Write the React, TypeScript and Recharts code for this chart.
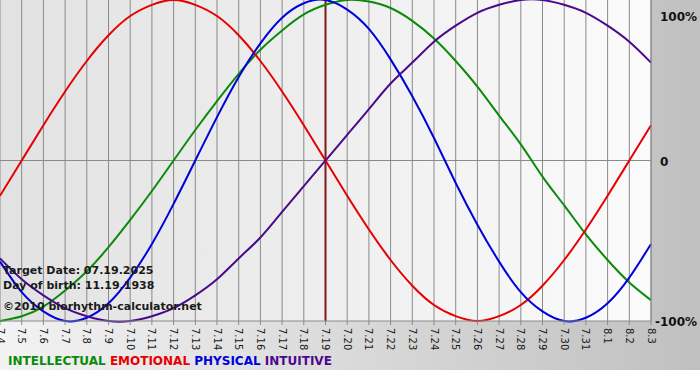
import React from "react";
import {
  LineChart,
  Line,
  XAxis,
  YAxis,
  CartesianGrid,
  ReferenceLine,
} from "recharts";

const days = [
  "7.4", "7.5", "7.6", "7.7", "7.8", "7.9", "7.10", "7.11", "7.12", "7.13",
  "7.14", "7.15", "7.16", "7.17", "7.18", "7.19", "7.20", "7.21", "7.22", "7.23",
  "7.24", "7.25", "7.26", "7.27", "7.28", "7.29", "7.30", "7.31", "8.1", "8.2", "8.3",
];

const intellectual = [
  -100, -97, -91, -81, -69, -54, -37, -19, 0, 19, 37, 54, 69, 81, 91, 97,
  100, 99, 95, 87, 76, 62, 46, 28, 10, -10, -28, -46, -62, -76, -87,
];
const emotional = [
  -22, 0, 22, 43, 62, 78, 90, 97, 100, 97, 90, 78, 62, 43, 22, 0,
  -22, -43, -62, -78, -90, -97, -100, -97, -90, -78, -62, -43, -22, 0, 22,
];
const physical = [
  -63, -82, -94, -100, -98, -89, -73, -52, -27, 0, 27, 52, 73, 89, 98, 100,
  94, 82, 63, 40, 14, -14, -40, -63, -82, -94, -100, -98, -89, -73, -52,
];
const intuitive = [
  -61, -74, -84, -92, -97, -100, -100, -97, -92, -84, -74, -61, -48, -32, -16, 0,
  16, 32, 48, 61, 74, 84, 92, 97, 100, 100, 97, 92, 84, 74, 61,
];

const targetDay = "7.19";
const yTicks = [-100, 0, 100];
const yLabels: Record<number, string> = { 100: "100%", 0: "0", [-100]: "-100%" };

const data = days.map((day, i) => ({
  idx: i,
  day,
  intellectual: intellectual[i],
  emotional: emotional[i],
  physical: physical[i],
  intuitive: intuitive[i],
}));

const font = "'DejaVu Sans', Verdana, sans-serif";

const DayTick = (props: any) => {
  const { x, y, payload } = props;
  return (
    <text
      x={0}
      y={0}
      transform={`translate(${x},${y + 1}) rotate(90)`}
      textAnchor="start"
      dominantBaseline="central"
      fontFamily={font}
      fontSize={10}
      fill="#1a1a1a"
    >
      {days[payload.value]}
    </text>
  );
};

const PercentTick = (props: any) => {
  const { x, y, payload } = props;
  const v = payload.value;
  const dy = v === 100 ? 8 : 1;
  const dx = v < 0 ? -4 : 1;
  return (
    <text
      x={x + dx}
      y={y + dy}
      textAnchor="start"
      dominantBaseline="central"
      fontFamily={font}
      fontSize={12}
      fontWeight="bold"
      fill="#111"
    >
      {yLabels[v]}
    </text>
  );
};

const infoStyle: React.CSSProperties = {
  position: "absolute",
  left: 3,
  fontFamily: font,
  fontSize: 11,
  fontWeight: "bold",
  color: "#1a1a1a",
  whiteSpace: "nowrap",
  lineHeight: "13px",
};

export default function App() {
  const lines = [
    { key: "intellectual", color: "#0b8a0b" },
    { key: "emotional", color: "#e60000" },
    { key: "physical", color: "#0000dc" },
    { key: "intuitive", color: "#4b0a8c" },
  ];
  return (
    <div style={{ position: "absolute", left: 0, top: 0, width: 700, height: 380, background: "#fff" }}>
      <div style={{
        position: "absolute",
        left: 0,
        top: 0,
        width: 700,
        height: 370,
        background: "linear-gradient(to right, #f3f3f3, #c0c0c0)",
      }} />
      <div style={{ position: "absolute", left: 0, top: 0 }}>
        <LineChart width={700} height={370} data={data} margin={{ top: 0, right: 0, left: 0, bottom: 0 }}>
          <defs>
            <linearGradient id="plotBg" x1="0" y1="0" x2="1" y2="0">
              <stop offset="0%" stopColor="#e2e2e2" />
              <stop offset="100%" stopColor="#fbfbfb" />
            </linearGradient>
          </defs>
          <CartesianGrid horizontal={false} stroke="#8a8a8a" strokeWidth={1} fill="url(#plotBg)" fillOpacity={1} />
          <ReferenceLine y={0} stroke="#8a8a8a" strokeWidth={1} />
          <XAxis
            dataKey="idx"
            type="number"
            domain={[0, days.length - 1]}
            ticks={data.map((d) => d.idx)}
            interval={0}
            tick={<DayTick />}
            tickLine={{ stroke: "#8a8a8a" }}
            tickSize={4}
            axisLine={{ stroke: "#8a8a8a" }}
            height={49}
          />
          <YAxis
            orientation="right"
            type="number"
            domain={[-100, 100]}
            ticks={yTicks}
            tick={<PercentTick />}
            tickLine={false}
            axisLine={{ stroke: "#8a8a8a" }}
            width={49}
          />
          <ReferenceLine x={days.indexOf(targetDay)} stroke="#801818" strokeWidth={2} />
          {lines.map((l) => (
            <Line
              key={l.key}
              type="natural"
              dataKey={l.key}
              stroke={l.color}
              strokeWidth={2}
              dot={false}
              activeDot={false}
              isAnimationActive={false}
            />
          ))}
        </LineChart>
      </div>
      <div style={{ ...infoStyle, top: 264 }}>Target Date: 07.19.2025</div>
      <div style={{ ...infoStyle, top: 279 }}>Day of birth: 11.19.1938</div>
      <div style={{ ...infoStyle, top: 300 }}>©2010 biorhythm-calculator.net</div>
      <div style={{
        position: "absolute",
        left: 8,
        top: 354,
        fontFamily: font,
        fontSize: 12,
        fontWeight: "bold",
        whiteSpace: "nowrap",
        lineHeight: "14px",
      }}>
        <span style={{ color: "#0b8a0b" }}>INTELLECTUAL</span>{" "}
        <span style={{ color: "#e60000" }}>EMOTIONAL</span>{" "}
        <span style={{ color: "#0000dc" }}>PHYSICAL</span>{" "}
        <span style={{ color: "#4b0a8c" }}>INTUITIVE</span>
      </div>
    </div>
  );
}
